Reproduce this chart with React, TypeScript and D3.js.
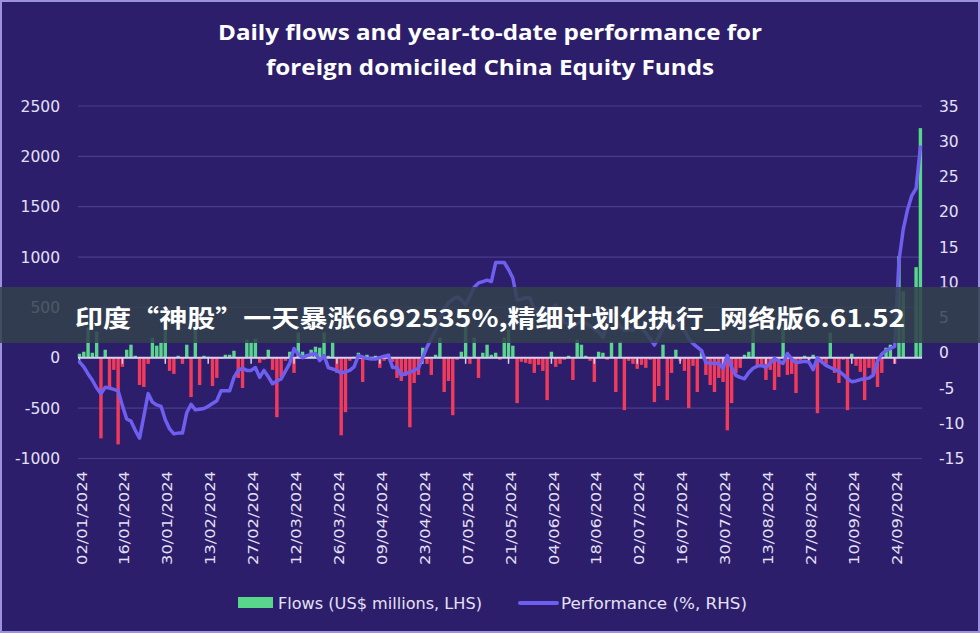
import React from 'react';
import * as d3 from 'd3';

// daily flows, US$ millions (LHS), one value per business day from 02/01/2024
const flows: number[] = [
  40, 60, 300, 50, 260, -800, 80, -300, -120, -860,
  -90, 80, 130, 20, -270, -290, -60, 200, 120, 150,
  330, -130, -160, 20, -60, 130, -390, 310, -270, 20,
  10, -280, -200, -10, 30, 30, 70, -200, -300, 180,
  150, 190, -50, -20, 80, -120, -590, -190, -30, 60,
  -150, 250, 60, 30, 80, 110, 100, 250, 20, 160,
  -150, -770, -540, -30, 10, 50, -240, 30, -20, 20,
  -100, -30, 40, -40, -200, -230, -180, -690, -250, -170,
  100, -60, -170, 30, 200, -340, -230, -570, -20, 60,
  330, -60, 200, -200, 50, 130, 30, 50, -20, 200,
  280, 120, -450, -40, -50, -60, -150, -70, -130, -420,
  60, -90, -60, -20, 20, -220, 180, 130, 20, -30,
  -240, 60, 50, -20, 160, -340, 160, -520, -30, -60,
  -110, -70, -100, -20, -440, -280, 130, -420, -150, 80,
  -30, -130, -500, -80, -340, 60, -170, -270, -340, -200,
  -240, -720, -450, -150, -100, 30, 60, 300, -90, -70,
  -220, -120, -320, -190, 300, -170, -160, -350, -30, 20,
  -20, 30, -550, -30, -60, 250, -150, -250, -20, -520,
  40, -80, -140, -420, -100, -170, -290, -150, 100, 130,
  -60, 1010, 660, 0, 0, 900, 2280,
];

// year-to-date performance, % (RHS)
const performance: number[] = [
  -1.3, -2.0, -3.0, -3.9, -5.0, -5.8, -4.9, -5.0, -5.2, -5.4,
  -7.5, -9.4, -9.7, -11.0, -12.1, -9.0, -5.8, -7.0, -7.4, -7.6,
  -9.5, -10.8, -11.5, -11.4, -11.4, -8.5, -7.3, -8.1, -8.0, -7.9,
  -7.6, -7.2, -6.8, -5.4, -5.4, -5.4, -3.5, -2.5, -2.2, -2.5,
  -2.5, -2.1, -3.5, -2.5, -3.4, -4.4, -4.0, -3.7, -2.6, -1.5,
  0.6, -0.2, -0.7, -0.4, -0.2, -0.1, -1.1, -0.4, -2.1, -2.3,
  -2.5, -2.9, -2.7, -2.5, -2.0, -0.4, -0.6, -0.8, -0.9, -0.9,
  -0.7, -0.5, -0.4, -2.1, -2.1, -3.2, -2.9, -2.8, -2.5, -2.2,
  -0.7, 0.8, 2.0, 3.2, 5.1, 6.2, 7.1, 7.6, 7.9, 7.5,
  6.8, 8.0, 9.3, 9.9, 10.1, 10.3, 10.1, 12.8, 12.8, 12.8,
  11.8, 10.6, 7.5, 7.6, 7.8, 7.8, 6.0, 5.6, 5.7, 5.8,
  6.3, 6.8, 5.5, 4.3, 4.0, 3.6, 4.1, 4.6, 4.2, 3.8,
  3.3, 3.0, 2.2, 4.0, 5.8, 4.9, 3.8, 3.2, 3.3, 3.2,
  4.0, 3.5, 2.8, 2.0, 1.1, 2.2, 3.5, 4.2, 4.3, 4.3,
  3.8, 3.2, 2.0, 1.3, 0.8, 0.3, -1.4, -1.5, -1.5, -1.5,
  -2.2, -0.4, -2.1, -3.2, -3.5, -3.7, -2.8, -2.2, -1.9, -1.8,
  -2.1, -1.5, -0.8, -1.2, -1.5, -0.1, -0.9, -1.4, -1.3, -1.2,
  -1.3, -2.4, -0.7, -1.3, -1.8, -2.1, -2.4, -2.6, -3.1, -3.7,
  -4.1, -4.0, -3.8, -3.7, -3.6, -3.2, -1.2, -0.2, 0.3, 0.6,
  0.9, 13.0, 17.5, 20.3, 22.3, 23.3, 29.2,
];

const tickLabels = [
  '02/01/2024', '16/01/2024', '30/01/2024', '13/02/2024', '27/02/2024',
  '12/03/2024', '26/03/2024', '09/04/2024', '23/04/2024', '07/05/2024',
  '21/05/2024', '04/06/2024', '18/06/2024', '02/07/2024', '16/07/2024',
  '30/07/2024', '13/08/2024', '27/08/2024', '10/09/2024', '24/09/2024',
];

const leftTicks = [-1000, -500, 0, 500, 1000, 1500, 2000, 2500];
const rightTicks = [-15, -10, -5, 0, 5, 10, 15, 20, 25, 30, 35];

// business days from 02/01/2024, one per data point
const fmt = d3.timeFormat('%d/%m/%Y');
const categories: string[] = [];
{
  let d = new Date(2024, 0, 2);
  while (categories.length < flows.length) {
    const wd = d.getDay();
    if (wd !== 0 && wd !== 6) categories.push(fmt(d));
    d = d3.timeDay.offset(d, 1);
  }
}

const W = 980;
const H = 633;
const axisFont = '"DejaVu Sans", sans-serif';
const textCol = '#e4e0f6';

const App: React.FC = () => {
  const x = d3.scalePoint<string>().domain(categories).range([79.5, 920.4]);
  const yL = d3.scaleLinear().domain([-1000, 2500]).range([458.5, 106]);
  const yR = d3.scaleLinear().domain([-15, 35]).range([458.5, 106]);
  const barW = 3.4;

  const line = d3.line<number>()
    .x((_, i) => x(categories[i])!)
    .y(v => yR(v));

  const zeroY = yL(0);

  return (
    <svg width={W} height={H} style={{ position: 'absolute', left: 0, top: 0 }}>
      <rect x={0} y={0} width={W} height={H} fill="#2c1e6b" />
      <rect x={1} y={1} width={W - 2} height={H - 2} fill="none" stroke="#9b91de" strokeWidth={2} />

      <text x={490} y={40} textAnchor="middle" fill="#ffffff" fontFamily='"Open Sans", sans-serif'
        fontWeight={700} fontSize={21} textLength={544} lengthAdjust="spacingAndGlyphs">
        Daily flows and year-to-date performance for
      </text>
      <text x={490} y={75} textAnchor="middle" fill="#ffffff" fontFamily='"Open Sans", sans-serif'
        fontWeight={700} fontSize={21} textLength={448} lengthAdjust="spacingAndGlyphs">
        foreign domiciled China Equity Funds
      </text>

      {leftTicks.map(t => (
        <g key={'l' + t}>
          <line x1={78} x2={922} y1={yL(t)} y2={yL(t)} stroke="#4a3d8e" strokeWidth={1.2} />
          <text x={60} y={yL(t)} dy="0.36em" textAnchor="end" fill={textCol}
            fontFamily={axisFont} fontSize={15.5}>{t}</text>
        </g>
      ))}
      {rightTicks.map(t => (
        <text key={'r' + t} x={939} y={yR(t)} dy="0.36em" fill={textCol}
          fontFamily={axisFont} fontSize={15.5}>{t}</text>
      ))}

      {flows.map((v, i) => (
        <rect key={'b' + i}
          x={x(categories[i])! - barW / 2}
          y={Math.min(yL(v), zeroY)}
          width={barW}
          height={Math.abs(yL(v) - zeroY)}
          fill={v >= 0 ? '#58d68b' : '#f23b5c'} />
      ))}

      <line x1={78} x2={922} y1={zeroY} y2={zeroY} stroke="#d6d0f2" strokeWidth={2} />
      {tickLabels.map(lbl => {
        const cx = x(lbl)!;
        return (
          <g key={lbl}>
            <line x1={cx} x2={cx} y1={zeroY} y2={zeroY + 6} stroke="#d6d0f2" strokeWidth={1.5} />
            <text transform={`translate(${cx + 2},471) rotate(-90)`} textAnchor="end" dy="0.35em"
              fill={textCol} fontFamily={axisFont} fontSize={14.5}
              textLength={94} lengthAdjust="spacingAndGlyphs">{lbl}</text>
          </g>
        );
      })}

      <path d={line(performance) ?? ''} fill="none" stroke="#6e5ff0" strokeWidth={3.5}
        strokeLinejoin="round" strokeLinecap="round" />

      <rect x={238} y={597} width={35} height={11} fill="#58d68b" />
      <text x={278} y={603} dy="0.36em" fill={textCol} fontFamily={axisFont} fontSize={15.5}
        textLength={204} lengthAdjust="spacingAndGlyphs">Flows (US$ millions, LHS)</text>
      <line x1={520} x2={557} y1={603} y2={603} stroke="#6e5ff0" strokeWidth={4} strokeLinecap="round" />
      <text x={561} y={603} dy="0.36em" fill={textCol} fontFamily={axisFont} fontSize={15.5}
        textLength={186} lengthAdjust="spacingAndGlyphs">Performance (%,  RHS)</text>

      <rect x={0} y={287} width={W} height={56} fill="#33414d" opacity={0.86} />
      <text x={490} y={327} textAnchor="middle" fill="#ffffff"
        fontFamily='"Noto Sans CJK SC", sans-serif' fontWeight={700} fontSize={24}
        textLength={830} lengthAdjust="spacingAndGlyphs">
        印度“神股”一天暴涨6692535%,精细计划化执行_网络版6.61.52
      </text>
    </svg>
  );
};

export default App;
